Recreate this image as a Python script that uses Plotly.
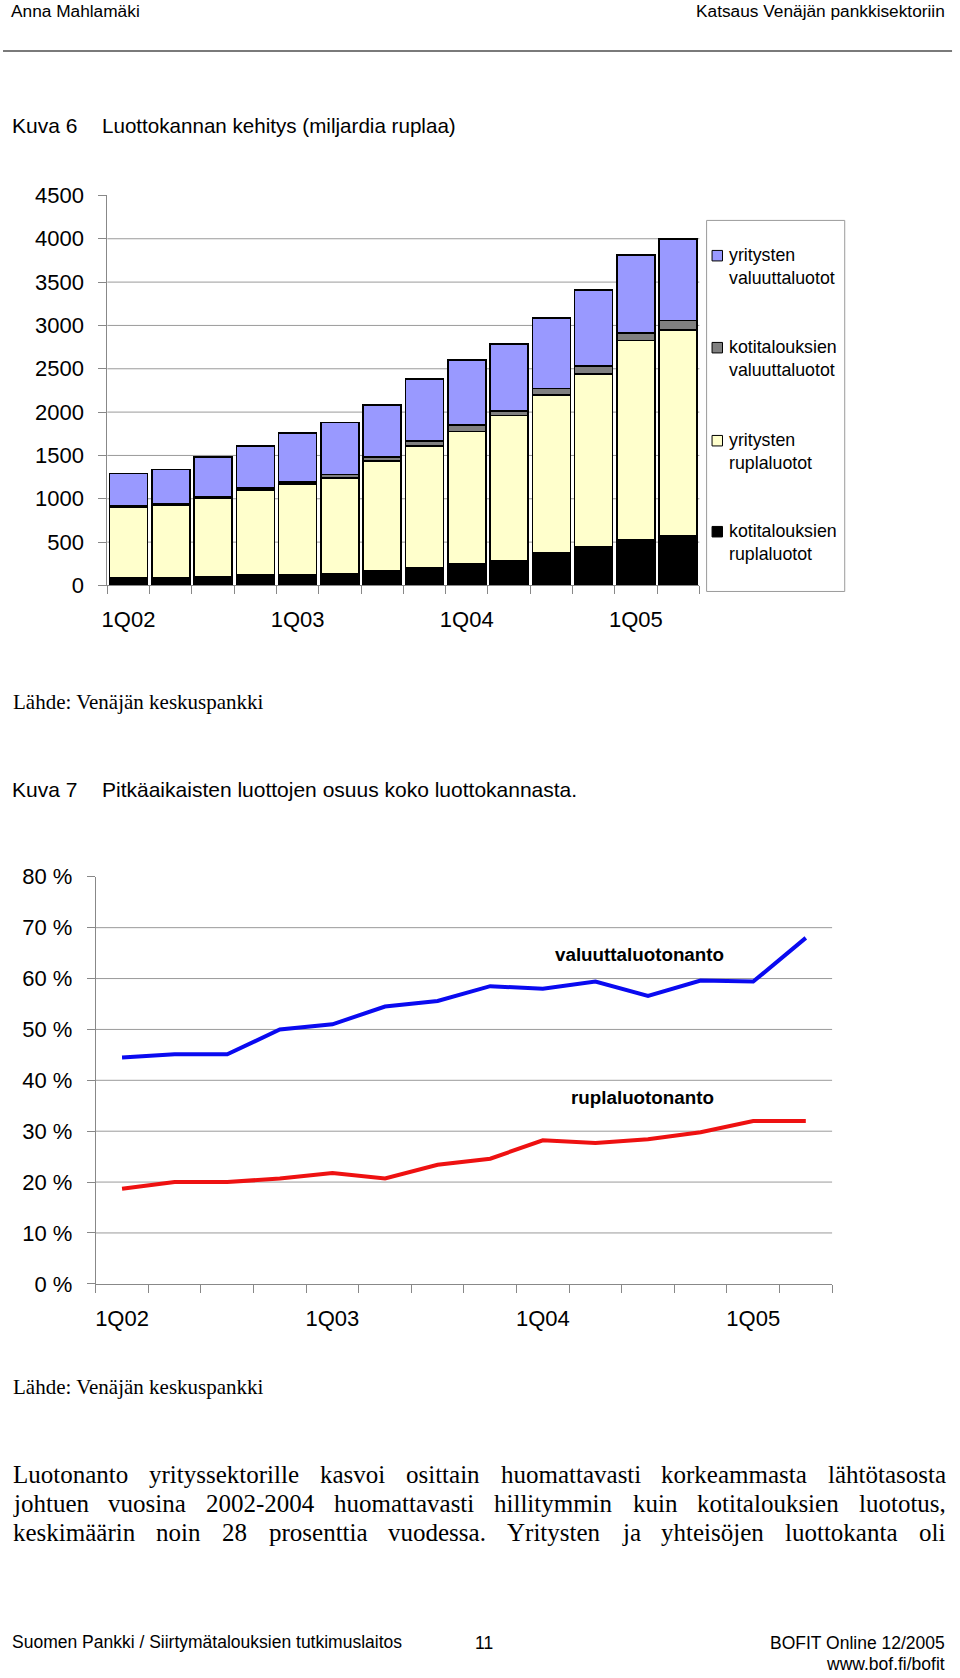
import plotly.graph_objects as go

W, H = 960, 1678

# ---------------- data ----------------
quarters = ["1Q02", "2Q02", "3Q02", "4Q02", "1Q03", "2Q03", "3Q03", "4Q03",
            "1Q04", "2Q04", "3Q04", "4Q04", "1Q05", "2Q05"]
label_quarters = ["1Q02", "1Q03", "1Q04", "1Q05"]

# Kuva 6, miljardia ruplaa (stack bottom -> top)
hh_ruble = [85, 85, 104, 119, 119, 138, 169, 208, 250, 288, 377, 442, 527, 573]
corp_ruble = [823, 838, 900, 985, 1054, 1104, 1269, 1400, 1527, 1673, 1819, 2000, 2300, 2377]
hh_fx = [15, 19, 15, 23, 23, 39, 43, 57, 73, 50, 77, 89, 88, 108]
corp_fx = [369, 396, 462, 484, 565, 600, 600, 716, 750, 777, 815, 877, 896, 938]

# Kuva 7, %
fx_share = [44.5, 45.1, 45.1, 50.0, 51.0, 54.5, 55.6, 58.5, 58.0, 59.4, 56.6, 59.6, 59.4, 68.0]
rub_share = [18.7, 20.0, 20.0, 20.7, 21.8, 20.7, 23.4, 24.6, 28.2, 27.7, 28.4, 29.8, 32.0, 32.0]

y1_ticks = [0, 500, 1000, 1500, 2000, 2500, 3000, 3500, 4000, 4500]
y2_ticks = [0, 10, 20, 30, 40, 50, 60, 70, 80]

series1 = [
    ("kotitalouksien ruplaluotot", hh_ruble, "#000000"),
    ("yritysten ruplaluotot", corp_ruble, "#FFFFCC"),
    ("kotitalouksien valuuttaluotot", hh_fx, "#808080"),
    ("yritysten valuuttaluotot", corp_fx, "#9999FF"),
]

# ---------------- helpers ----------------
# page-pixel -> paper, with a small correction for how the page is captured
AX, SX = 3.0, 1.0
AY, SY = 12.6, 0.985


def px(x):
    return ((x - AX) / SX) / W


def py(y):
    return 1 - ((y - AY) / SY) / H


SANS = "Liberation Sans, Arial, sans-serif"
SERIF = "Liberation Serif, Times New Roman, serif"
AXIS_GRAY = "#888888"
GRID_GRAY = "#9a9a9a"

xpos = list(range(len(quarters)))
label_idx = [quarters.index(q) for q in label_quarters]
boundaries = [i - 0.5 for i in range(len(quarters) + 1)]

fig = go.Figure()

for name, vals, col in series1:
    fig.add_trace(go.Bar(
        x=xpos, y=vals, name=name, marker=dict(color=col, line=dict(color="#000000", width=1.5)),
        xaxis="x", yaxis="y", showlegend=False,
    ))

fig.add_trace(go.Scatter(x=xpos, y=fx_share, mode="lines", name="valuuttaluotonanto",
                         line=dict(color="#0A0AF0", width=4), xaxis="x2", yaxis="y2", showlegend=False))
fig.add_trace(go.Scatter(x=xpos, y=rub_share, mode="lines", name="ruplaluotonanto",
                         line=dict(color="#EE1111", width=4), xaxis="x2", yaxis="y2", showlegend=False))

tickfont = dict(family=SANS, size=22, color="#000000")


def xaxis_cfg(x0, x1, y_anchor, standoff):
    return dict(
        domain=[px(x0), px(x1)], anchor=y_anchor, range=[-0.5, len(quarters) - 0.5],
        tickmode="array", tickvals=label_idx, ticktext=label_quarters, ticks="",
        showline=True, linecolor=AXIS_GRAY, linewidth=1, showgrid=False, zeroline=False,
        tickfont=tickfont, ticklabelstandoff=standoff,
        minor=dict(tickmode="array", tickvals=boundaries, ticks="outside", ticklen=8,
                   tickcolor=AXIS_GRAY, tickwidth=1, showgrid=False),
        fixedrange=True,
    )


def yaxis_cfg(ytop, ybot, x_anchor, ticks, texts):
    return dict(
        domain=[py(ybot), py(ytop)], anchor=x_anchor, range=[ticks[0], ticks[-1]],
        tickmode="array", tickvals=ticks, ticktext=texts, ticks="outside", ticklen=8,
        tickcolor=AXIS_GRAY, showline=True, linecolor=AXIS_GRAY, linewidth=1,
        showgrid=False, zeroline=False, tickfont=tickfont, ticklabelstandoff=10,
        fixedrange=True,
    )


shapes = []
# horizontal gridlines (not at bottom or top)
for v in y1_ticks[1:-1]:
    shapes.append(dict(type="line", xref="x domain", x0=0, x1=1, yref="y", y0=v, y1=v,
                       line=dict(color=GRID_GRAY, width=1), layer="below"))
for v in y2_ticks[1:-1]:
    shapes.append(dict(type="line", xref="x2 domain", x0=0, x1=1, yref="y2", y0=v, y1=v,
                       line=dict(color=GRID_GRAY, width=1), layer="below"))

# header rule
shapes.append(dict(type="line", xref="paper", yref="paper", x0=px(0), x1=px(955), y0=py(51.5), y1=py(51.5),
                   line=dict(color="#7a7a7a", width=2)))

# legend box for Kuva 6
shapes.append(dict(type="rect", xref="paper", yref="paper", x0=px(708), x1=px(847), y0=py(592), y1=py(221),
                   line=dict(color="#9a9a9a", width=1), fillcolor="rgba(0,0,0,0)"))

annotations = []


def text(x, y, s, size, family=SANS, anchor="left", bold=False, color="#000000"):
    annotations.append(dict(
        xref="paper", yref="paper", x=px(x), y=py(y), text=("<b>%s</b>" % s) if bold else s,
        showarrow=False, xanchor=anchor, yanchor="middle", borderpad=0,
        font=dict(family=family, size=size, color=color),
    ))


# legend entries (top to bottom)
legend_rows = [256, 348, 441, 532]
for (name, vals, col), yc in zip(reversed(series1), legend_rows):
    shapes.append(dict(type="rect", xref="paper", yref="paper", x0=px(713.5), x1=px(724), y0=py(yc + 5.5),
                       y1=py(yc - 5), fillcolor=col, line=dict(color="#000000", width=1)))
    w1, w2 = name.split(" ")
    text(729.5, yc, w1, 17.8)
    text(729.5, yc + 22.7, w2, 17.8)

# page texts
text(7, 12, "Anna Mahlamäki", 17.3)
text(949, 12, "Katsaus Venäjän pankkisektoriin", 17.3, anchor="right")
text(8, 126.5, "Kuva 6", 21)
text(99, 126.5, "Luottokannan kehitys (miljardia ruplaa)", 20.6)
text(9, 703, "Lähde: Venäjän keskuspankki", 21, family=SERIF)
text(8, 790, "Kuva 7", 21)
text(99, 790, "Pitkäaikaisten luottojen osuus koko luottokannasta.", 21)
text(9, 1387, "Lähde: Venäjän keskuspankki", 21, family=SERIF)

# line labels in Kuva 7
text(640, 955, "valuuttaluotonanto", 18.8, anchor="center", bold=True)
text(643, 1098, "ruplaluotonanto", 18.8, anchor="center", bold=True)

# footer
text(8, 1642, "Suomen Pankki / Siirtymätalouksien tutkimuslaitos", 17.5)
text(484, 1643, "11", 17.5, anchor="center")
text(949, 1643, "BOFIT Online 12/2005", 17.5, anchor="right")
text(949, 1664, "www.bof.fi/bofit", 17.5, anchor="right")

# justified paragraph (Times metrics per 1000 em)
TIMES = {
    " ": 250, "a": 444, "b": 500, "c": 444, "d": 500, "e": 444, "f": 333, "g": 500, "h": 500,
    "i": 278, "j": 278, "k": 500, "l": 278, "m": 778, "n": 500, "o": 500, "p": 500, "q": 500,
    "r": 333, "s": 389, "t": 278, "u": 500, "v": 500, "w": 722, "x": 500, "y": 500, "z": 444,
    "ä": 444, "ö": 500, "-": 333, ".": 250, ",": 250, ":": 278, "L": 611, "Y": 722,
}
for d in "0123456789":
    TIMES[d] = 500

para_lines = [
    "Luotonanto yrityssektorille kasvoi osittain huomattavasti korkeammasta lähtötasosta",
    "johtuen vuosina 2002-2004 huomattavasti hillitymmin kuin kotitalouksien luototus,",
    "keskimäärin noin 28 prosenttia vuodessa. Yritysten ja yhteisöjen luottokanta oli",
]
para_y = [1475, 1504, 1533]
PSIZE = 25
LEFT, RIGHT = 9, 947


def wwidth(w):
    return sum(TIMES.get(c, 500) for c in w) * PSIZE / 1000.0


for line, yc in zip(para_lines, para_y):
    words = line.split(" ")
    total = sum(wwidth(w) for w in words)
    gap = (RIGHT - LEFT - total) / (len(words) - 1)
    x = LEFT
    for w in words:
        text(x, yc, w, PSIZE, family=SERIF)
        x += wwidth(w) + gap

fig.update_layout(
    width=W, height=H, margin=dict(l=0, r=0, t=0, b=0),
    paper_bgcolor="#FFFFFF", plot_bgcolor="#FFFFFF",
    barmode="stack", bargap=0.1,
    xaxis=xaxis_cfg(105, 700.7, "y", 14),
    yaxis=yaxis_cfg(196, 586, "x", y1_ticks, [str(v) for v in y1_ticks]),
    xaxis2=xaxis_cfg(93.3, 834.3, "y2", 15),
    yaxis2=yaxis_cfg(877.3, 1284.3, "x2", y2_ticks, ["%d %%" % v for v in y2_ticks]),
    shapes=shapes, annotations=annotations, showlegend=False,
    font=dict(family=SANS, color="#000000"),
)

fig.write_html(
    "out.html",
    config={"displayModeBar": False, "staticPlot": True},
    post_script="document.body.style.margin='0';document.body.style.padding='0';"
                "document.body.style.overflow='hidden';",
)
